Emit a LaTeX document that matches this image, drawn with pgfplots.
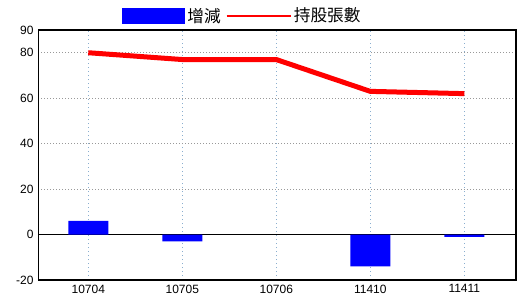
\documentclass[border=0pt]{standalone}
\usepackage{pgfplots}
\pgfplotsset{compat=1.18}
\usepackage{fontspec}
\setmainfont{Liberation Sans}
\newfontfamily\cjk{Noto Sans CJK TC}
\definecolor{vgrid}{HTML}{8AAECF}
\begin{document}
\begin{tikzpicture}
\useasboundingbox (0,0) rectangle (390pt,225pt);
\begin{axis}[
  at={(28.7pt,15pt)}, anchor=south west,
  scale only axis, width=358.3pt, height=187.5pt,
  xmin=-0.532, xmax=4.55, ymin=-20, ymax=90,
  xtick={0,1,2,3,4}, xticklabels={10704,10705,10706,11410,11411},
  ytick={-20,20,40,60,80,90},
  extra y ticks={0},
  extra y tick style={y grid style={black, solid, line width=0.8pt}},
  major tick length=0pt,
  ymajorgrids, xmajorgrids,
  x grid style={dash pattern=on 1pt off 2pt, color=vgrid, line width=0.8pt},
  y grid style={dash pattern=on 0.75pt off 1.5pt, color=gray!80, line width=0.75pt},
  axis line style={black, line width=0.8pt},
  tick label style={font=\fontsize{9}{10}\selectfont, /pgf/number format/assume math mode=true},
  legend columns=-1,
  legend style={at={(axis description cs:0.175,1.056)}, anchor=west, draw=none, fill=none, inner sep=0pt,
    font=\cjk\fontsize{12.5}{13}\selectfont, /tikz/every even column/.append style={column sep=2pt}},
]
\addplot[ybar, bar width=30pt, fill=blue, draw=none,
  legend image code/.code={\fill[blue] (0pt,-6pt) rectangle (47pt,6pt);}]
  coordinates {(0,6) (1,-3) (3,-14) (4,-1)};
\addlegendentry{增減}
\addplot[red, line width=3.75pt, mark=none,
  legend image code/.code={\draw[red, line width=0.8pt] (0pt,0pt) -- (48pt,0pt);}]
  coordinates {(0,80) (1,77) (2,77) (3,63) (4,62)};
\addlegendentry{持股張數}
\end{axis}
\end{tikzpicture}
\end{document}
